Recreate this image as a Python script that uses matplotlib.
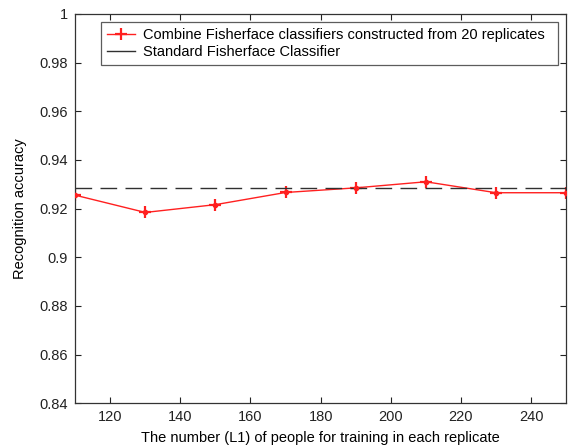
import matplotlib.pyplot as plt
from matplotlib.lines import Line2D

plt.rcParams['font.family'] = ['Liberation Sans', 'DejaVu Sans']

# Recognition accuracy vs. number of people per replicate
people = [110, 130, 150, 170, 190, 210, 230, 250]
combined_acc = [0.9255, 0.9184, 0.9216, 0.9266, 0.9285, 0.9310, 0.9265, 0.9265]
standard_acc = 0.9285

x_ticks = [120, 140, 160, 180, 200, 220, 240]
y_ticks = [0.84, 0.86, 0.88, 0.90, 0.92, 0.94, 0.96, 0.98, 1.0]
y_tick_labels = ['0.84', '0.86', '0.88', '0.9', '0.92', '0.94', '0.96', '0.98', '1']

fs = 10.5
red = '#ff2020'
dark = '#303030'

fig = plt.figure(figsize=(5.69, 4.48), dpi=100)
ax = fig.add_axes([0.132, 0.100, 0.863, 0.869])

comb_line, = ax.plot(people, combined_acc, '-', color=red, lw=1.0,
                     marker='+', ms=8, mew=1.6)
ax.plot(people, combined_acc, 'o', color=red, ms=3, zorder=3)
ax.axhline(standard_acc, color=dark, lw=1.0, ls=(0, (12, 6)))

ax.set_xlim(110, 250)
ax.set_ylim(0.84, 1.0)
ax.set_xticks(x_ticks)
ax.set_yticks(y_ticks)
ax.set_yticklabels(y_tick_labels)
ax.tick_params(direction='in', top=True, right=True, labelsize=fs,
               length=4, width=0.8, colors='#222222', pad=5)
for s in ax.spines.values():
    s.set_linewidth(0.9)
    s.set_color('#333333')

ax.set_xlabel('The number (L1) of people for training in each replicate',
              fontsize=fs, labelpad=5)
ax.set_ylabel('Recognition accuracy', fontsize=fs, labelpad=9)

# the dashed reference line shows as a short solid stroke in the legend
std_handle = Line2D([], [], color=dark, lw=1.0)
leg = ax.legend([comb_line, std_handle],
                ['Combine Fisherface classifiers constructed from 20 replicates',
                 'Standard Fisherface Classifier'],
                loc='upper right', mode='expand', fontsize=fs, frameon=True,
                fancybox=False, edgecolor='#333333', handlelength=1.9,
                handletextpad=0.55, borderaxespad=0, labelspacing=0.2,
                borderpad=0.4, bbox_to_anchor=(0.053, 0.978, 0.931, 0.0))
leg.get_frame().set_linewidth(0.9)

fig.savefig('out.png', dpi=100)
